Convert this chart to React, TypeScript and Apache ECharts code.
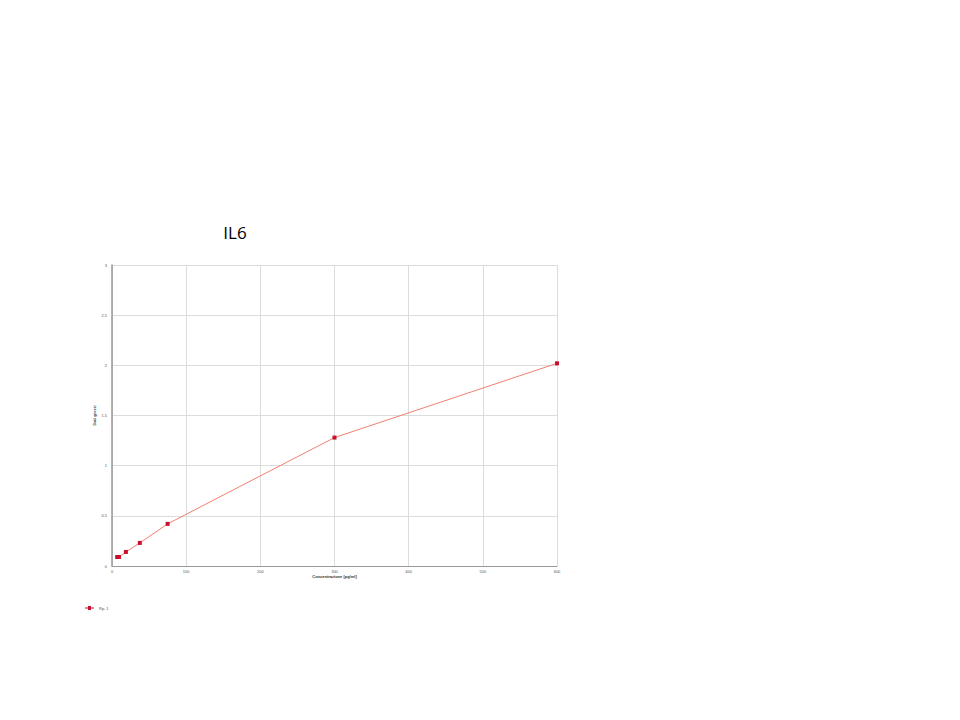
import { useEffect, useRef } from "react";
import * as echarts from "echarts";

const concentrations = [7, 9.4, 18.75, 37.5, 75, 300, 600];
const odValues = [0.09, 0.09, 0.14, 0.23, 0.42, 1.28, 2.02];
const seriesName = "Rp. 1";
const chartTitle = "IL6";
const xAxisName = "Concentrazione [pg/ml]";
const yAxisName = "Dati grezzi";

export default function App() {
  const chartRef = useRef<HTMLDivElement | null>(null);

  useEffect(() => {
    if (!chartRef.current) return;
    const chart = echarts.init(chartRef.current, null, { renderer: "svg" });

    chart.setOption({
      animation: false,
      backgroundColor: "#ffffff",
      textStyle: { fontFamily: "Liberation Sans, Arial, sans-serif" },
      graphic: [
        {
          type: "text",
          x: 235,
          y: 232,
          style: {
            text: chartTitle,
            fontSize: 17,
            fontFamily: "Open Sans, Liberation Sans, sans-serif",
            fill: "#000",
            textAlign: "center",
            textVerticalAlign: "middle",
          },
        },
      ],
      legend: {
        left: 80,
        top: 601,
        itemWidth: 9,
        itemHeight: 4,
        itemGap: 4,
        icon: "path://M0,1.5 L9,1.5 L9,2.5 L0,2.5 Z M3,0 L6,0 L6,4 L3,4 Z",
        textStyle: { fontSize: 4, color: "#555" },
        data: [seriesName],
      },
      grid: { left: 112, right: 403, top: 265, bottom: 154 },
      xAxis: {
        type: "value",
        min: 0,
        max: 600,
        interval: 100,
        name: xAxisName,
        nameLocation: "middle",
        nameGap: 8,
        nameTextStyle: { fontSize: 4, color: "#333", fontWeight: "bold" },
        axisLine: { show: true, lineStyle: { color: "#999", width: 1 } },
        axisTick: { show: false },
        axisLabel: { fontSize: 4, color: "#555", margin: 3 },
        splitLine: { show: true, lineStyle: { color: "#dcdcdc", width: 1 } },
      },
      yAxis: {
        type: "value",
        min: 0,
        max: 3,
        interval: 0.5,
        name: yAxisName,
        nameLocation: "middle",
        nameGap: 16,
        nameRotate: 90,
        nameTextStyle: { fontSize: 4, color: "#333", fontWeight: "bold" },
        axisLine: { show: true, lineStyle: { color: "#999", width: 1.5 } },
        axisTick: { show: false },
        axisLabel: { fontSize: 4, color: "#555", margin: 5 },
        splitLine: { show: true, lineStyle: { color: "#dcdcdc", width: 1 } },
      },
      series: [
        {
          name: seriesName,
          type: "line",
          data: concentrations.map((c, i) => [c, odValues[i]]),
          symbol: "rect",
          symbolSize: 4,
          itemStyle: { color: "#c8102e" },
          lineStyle: { color: "#f28070", width: 1 },
        },
      ],
    });

    return () => {
      chart.dispose();
    };
  }, []);

  return (
    <div
      ref={chartRef}
      style={{ position: "absolute", left: 0, top: 0, width: 960, height: 720 }}
    />
  );
}
